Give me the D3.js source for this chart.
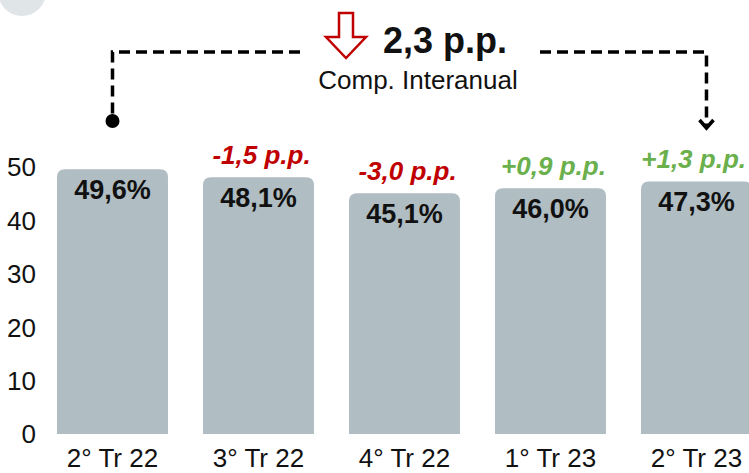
<!DOCTYPE html>
<html>
<head>
<meta charset="utf-8">
<script src="https://cdn.jsdelivr.net/npm/d3@7"></script>
<style>
  html, body { margin: 0; padding: 0; background: #fff; }
  svg { display: block; font-family: "Liberation Sans", Arial, sans-serif; }
</style>
</head>
<body>
<svg id="chart" width="749" height="473"></svg>
<script>
const categories = ["2° Tr 22", "3° Tr 22", "4° Tr 22", "1° Tr 23", "2° Tr 23"];
const values = [49.6, 48.1, 45.1, 46.0, 47.3];
const valueLabels = ["49,6%", "48,1%", "45,1%", "46,0%", "47,3%"];
const changes = [null, -1.5, -3.0, 0.9, 1.3];
const changeLabels = ["", "-1,5 p.p.", "-3,0 p.p.", "+0,9 p.p.", "+1,3 p.p."];
const yTicks = [0, 10, 20, 30, 40, 50];
const yoyValue = "2,3 p.p.";
const yoyText = "Comp. Interanual";

const barColor = "#b0bdc2";
const red = "#c00000";
const green = "#6ab04c";
const W = 749;

const svg = d3.select("#chart");

const x = d3.scaleBand()
  .domain(categories)
  .range([39.5, 769.5])
  .paddingInner(0.24)
  .paddingOuter(0.12);

const y = d3.scaleLinear()
  .domain([0, 50])
  .range([434, 167]);

// light circle in the corner
svg.append("circle")
  .attr("cx", 22).attr("cy", -8).attr("r", 24)
  .attr("fill", "#e0e5e8");

// bars with rounded tops
const r = 8;
function barPath(d, i) {
  const x0 = x(categories[i]), w = x.bandwidth();
  const top = y(d), bot = y(0);
  return `M${x0},${bot}V${top + r}Q${x0},${top} ${x0 + r},${top}H${x0 + w - r}Q${x0 + w},${top} ${x0 + w},${top + r}V${bot}Z`;
}

svg.append("g").selectAll("path")
  .data(values)
  .join("path")
  .attr("d", barPath)
  .attr("fill", barColor);

// value labels inside bars
svg.append("g").selectAll("text")
  .data(values)
  .join("text")
  .attr("x", (d, i) => x(categories[i]) + x.bandwidth() / 2)
  .attr("y", d => y(d) + 30)
  .attr("text-anchor", "middle")
  .attr("font-size", "27px")
  .attr("font-weight", "bold")
  .attr("fill", "#111")
  .text((d, i) => valueLabels[i]);

// change labels above bars, kept inside the picture
svg.append("g").selectAll("text")
  .data(values)
  .join("text")
  .attr("text-anchor", "middle")
  .attr("y", d => y(d) - 13)
  .attr("font-size", "26px")
  .attr("font-weight", "bold")
  .attr("font-style", "italic")
  .attr("fill", (d, i) => changes[i] < 0 ? red : green)
  .text((d, i) => changeLabels[i])
  .attr("x", function(d, i) {
    const cx = x(categories[i]) + x.bandwidth() / 2 + 3;
    const half = this.getComputedTextLength() / 2;
    return Math.min(cx, W - 3 - half);
  });

// y axis labels
svg.append("g").selectAll("text")
  .data(yTicks)
  .join("text")
  .attr("x", 36)
  .attr("y", d => y(d))
  .attr("dy", "0.36em")
  .attr("text-anchor", "end")
  .attr("font-size", "26px")
  .attr("fill", "#111")
  .text(d => d);

// x axis labels
svg.append("g").selectAll("text")
  .data(categories)
  .join("text")
  .attr("x", d => x(d) + x.bandwidth() / 2)
  .attr("y", 467)
  .attr("text-anchor", "middle")
  .attr("font-size", "26px")
  .attr("fill", "#111")
  .text(d => d);

// year-on-year bracket
const lx = x(categories[0]) + x.bandwidth() / 2;
const rx = x(categories[4]) + x.bandwidth() * 0.59;
const by = 52;

svg.append("path")
  .attr("d", `M300,${by}H${lx}V116`)
  .attr("fill", "none")
  .attr("stroke", "#000")
  .attr("stroke-width", 3.5)
  .attr("stroke-dasharray", "11,6");
svg.append("circle")
  .attr("cx", lx).attr("cy", 121).attr("r", 7)
  .attr("fill", "#000");

svg.append("path")
  .attr("d", `M540,${by}H${rx}V126`)
  .attr("fill", "none")
  .attr("stroke", "#000")
  .attr("stroke-width", 3.5)
  .attr("stroke-dasharray", "11,6");
svg.append("path")
  .attr("d", `M${rx - 7},${120}L${rx},${128}L${rx + 7},${120}`)
  .attr("fill", "none")
  .attr("stroke", "#000")
  .attr("stroke-width", 3.5);

// hollow down arrow
svg.append("path")
  .attr("d", "M339,13H353V37H366L346,58L326,37H339Z")
  .attr("fill", "#fff")
  .attr("stroke", red)
  .attr("stroke-width", 2.5)
  .attr("stroke-linejoin", "miter");

svg.append("text")
  .attr("x", 383).attr("y", 53)
  .attr("font-size", "36px")
  .attr("font-weight", "bold")
  .attr("fill", "#111")
  .text(yoyValue);

svg.append("text")
  .attr("x", 418).attr("y", 89)
  .attr("text-anchor", "middle")
  .attr("font-size", "26px")
  .attr("fill", "#111")
  .text(yoyText);
</script>
</body>
</html>
